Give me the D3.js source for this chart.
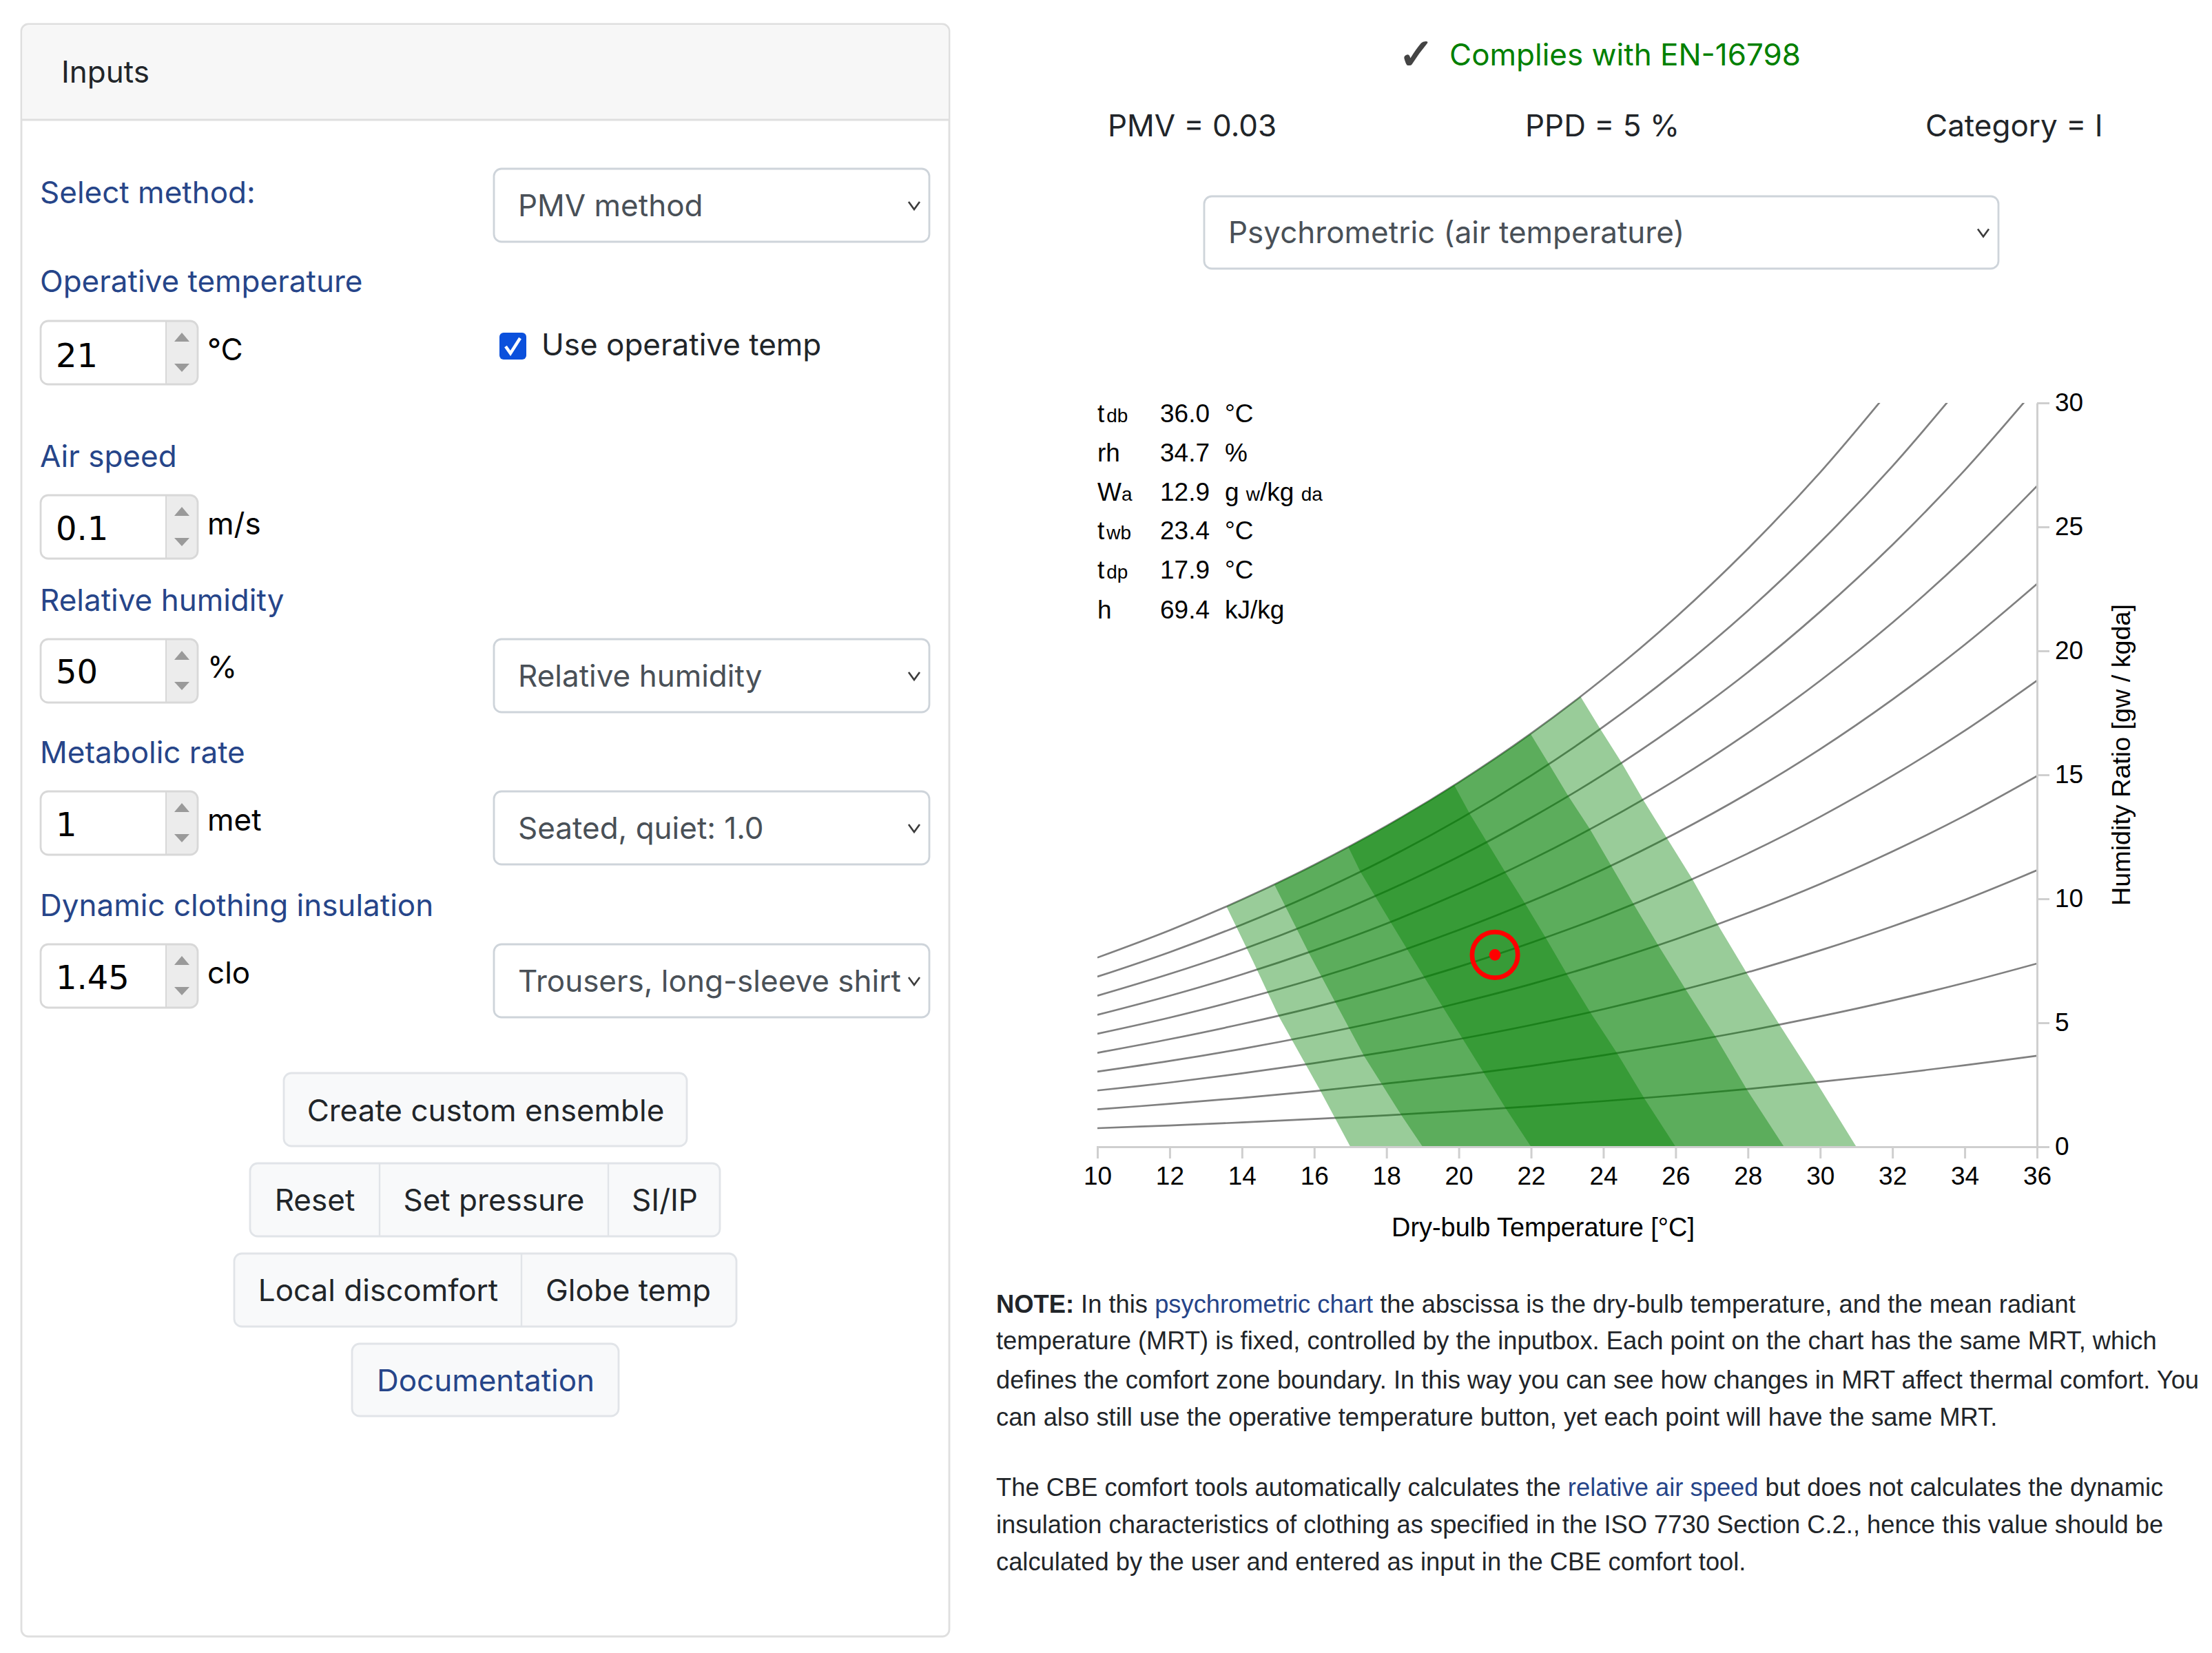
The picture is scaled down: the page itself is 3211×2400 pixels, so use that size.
<!DOCTYPE html>
<html>
<head>
<meta charset="utf-8">
<title>CBE thermal comfort tool</title>
<script src="https://d3js.org/d3.v7.min.js"></script>
<style>
    html, body { margin: 0; padding: 0; background: #fff; }
    svg { display: block; }
    .ui { font-family: Inter, Roboto, sans-serif; font-size: 44px; }
    .plain { font-family: "Liberation Sans", Arial, sans-serif; }
    .axis path, .axis line { stroke: #cfcfcf; stroke-width: 3px; fill: none; }
    .axis text { font-family: "Liberation Sans", Arial, sans-serif; font-size: 37px; fill: #000; }
</style>
</head>
<body>
<div id="page"></div>
<script>
// --- dados do grafico ---
const temps = [10, 12, 14, 16, 18, 20, 22, 24, 26, 28, 30, 32, 34, 36];
const xTicks = [10, 12, 14, 16, 18, 20, 22, 24, 26, 28, 30, 32, 34, 36];
const yTicks = [0, 5, 10, 15, 20, 25, 30];

// humidity ratio (g/kg) of each RH curve, read at the temps above
const rh10 = [0.75, 0.86, 0.98, 1.12, 1.27, 1.44, 1.63, 1.84, 2.07, 2.33, 2.62, 2.93, 3.29, 3.67];
const rh20 = [1.51, 1.73, 1.97, 2.24, 2.55, 2.88, 3.26, 3.69, 4.16, 4.68, 5.26, 5.90, 6.61, 7.39];
const rh30 = [2.27, 2.59, 2.96, 3.37, 3.83, 4.34, 4.91, 5.55, 6.26, 7.04, 7.92, 8.89, 9.96, 11.15];
const rh40 = [3.03, 3.46, 3.95, 4.50, 5.11, 5.80, 6.56, 7.42, 8.37, 9.43, 10.60, 11.91, 13.35, 14.95];
const rh50 = [3.79, 4.34, 4.95, 5.63, 6.40, 7.26, 8.23, 9.30, 10.50, 11.83, 13.31, 14.96, 16.78, 18.80];
const rh60 = [4.56, 5.21, 5.95, 6.77, 7.70, 8.74, 9.90, 11.19, 12.64, 14.25, 16.04, 18.04, 20.25, 22.70];
const rh70 = [5.32, 6.09, 6.95, 7.92, 9.00, 10.22, 11.58, 13.10, 14.79, 16.69, 18.80, 21.14, 23.75, 26.65];
const rh80 = [6.09, 6.97, 7.95, 9.06, 10.31, 11.70, 13.27, 15.01, 16.97, 19.14, 21.58, 24.28, 27.29, 30.64];
const rh90 = [6.86, 7.85, 8.96, 10.21, 11.62, 13.20, 14.97, 16.94, 19.15, 21.62, 24.38, 27.45, 30.87];
const rh100 = [7.63, 8.73, 9.97, 11.37, 12.94, 14.70, 16.67, 18.88, 21.35, 24.12, 27.20, 30.65];
const rhCurves = [rh10, rh20, rh30, rh40, rh50, rh60, rh70, rh80, rh90, rh100];

// comfort zone edges as [t, W], from W = 0 up to the saturation curve
const coldEdgeIII = [[17, 0], [16.15, 2.31], [15.03, 5.23], [14.3, 7.5], [13.58, 9.67]];
const warmEdgeIII = [[31, 0], [29.9, 2.59], [28.88, 4.91], [27.97, 7.0], [27.23, 8.8], [26.47, 10.78], [25.11, 13.97], [24.49, 15.53], [23.92, 16.84], [23.37, 18.15]];
const coldEdgeII = [[19, 0], [18.4, 1.3], [17.38, 3.66], [16.58, 5.83], [15.85, 7.82], [15.24, 9.58], [14.92, 10.51]];
const warmEdgeII = [[29, 0], [27.97, 2.31], [27.12, 4.4], [26.28, 6.34], [25.53, 8.1], [24.92, 9.58], [23.62, 12.83], [23.02, 14.17], [22.48, 15.47], [22.0, 16.62]];
const coldEdgeI = [[22, 0], [21.29, 1.57], [20.11, 4.35], [19.04, 6.85], [18.13, 9.02], [17.27, 11.11], [16.96, 12.04]];
const warmEdgeI = [[26, 0], [25.14, 1.94], [24.39, 3.75], [23.64, 5.42], [23.0, 6.94], [22.41, 8.42], [21.83, 9.82], [21.28, 11.09], [20.77, 12.31], [20.3, 13.44], [19.89, 14.54]];
const zones = [[coldEdgeIII, warmEdgeIII], [coldEdgeII, warmEdgeII], [coldEdgeI, warmEdgeI]];

const currentT = 21;
const currentW = 7.74;

// tabela de leitura do cursor
const readoutNames = [["t", "db"], ["rh", ""], ["W", "a"], ["t", "wb"], ["t", "dp"], ["h", ""]];
const readoutValues = ["36.0", "34.7", "12.9", "23.4", "17.9", "69.4"];

// --- textos da pagina ---
const noteLines = [
    [["NOTE:", "b"], [" In this ", ""], ["psychrometric chart", "a"], [" the abscissa is the dry-bulb temperature, and the mean radiant", ""]],
    [["temperature (MRT) is fixed, controlled by the inputbox. Each point on the chart has the same MRT, which", ""]],
    [["defines the comfort zone boundary. In this way you can see how changes in MRT affect thermal comfort. You", ""]],
    [["can also still use the operative temperature button, yet each point will have the same MRT.", ""]],
    [["The CBE comfort tools automatically calculates the ", ""], ["relative air speed", "a"], [" but does not calculates the dynamic", ""]],
    [["insulation characteristics of clothing as specified in the ISO 7730 Section C.2., hence this value should be", ""]],
    [["calculated by the user and entered as input in the CBE comfort tool.", ""]]
];
const noteBaselines = [1906, 1959, 2016, 2070, 2172, 2226, 2280];

const blue = "#264589";

const svg = d3.select("#page").append("svg")
    .attr("width", 3211)
    .attr("height", 2400);

// --- painel de entradas ---
const panel = svg.append("g").attr("class", "ui");

panel.append("rect")
    .attr("x", 31).attr("y", 35).attr("width", 1347).attr("height", 2341).attr("rx", 10)
    .attr("fill", "#fff").attr("stroke", "#dfdfdf").attr("stroke-width", 2.8);
panel.append("path")
    .attr("d", "M32.4,174 V46 a10,10 0 0 1 10,-10 H1367 a10,10 0 0 1 10,10 V174 Z")
    .attr("fill", "#f7f7f7");
panel.append("line")
    .attr("x1", 31).attr("x2", 1378).attr("y1", 174).attr("y2", 174)
    .attr("stroke", "#dfdfdf").attr("stroke-width", 2.8);
panel.append("text").attr("x", 89).attr("y", 120).attr("fill", "#212529").text("Inputs");

function label(x, y, txt, color) {
    return panel.append("text").attr("x", x).attr("y", y).attr("fill", color || blue).text(txt);
}

function selectBox(g, x, y, w, h, baseline, txt) {
    g.append("rect")
        .attr("x", x).attr("y", y).attr("width", w).attr("height", h).attr("rx", 11)
        .attr("fill", "#fff").attr("stroke", "#ced4da").attr("stroke-width", 2.8);
    g.append("text").attr("class", "ui").attr("x", x + 35).attr("y", baseline).attr("fill", "#495057").text(txt);
    const cx = x + w - 22, cy = y + h / 2;
    g.append("path")
        .attr("d", `M${cx - 8},${cy - 5} L${cx},${cy + 6} L${cx + 8},${cy - 5}`)
        .attr("fill", "none").attr("stroke", "#3c3c3c").attr("stroke-width", 2.6);
}

function numberBox(y, baseline, value, unit, unitBaseline) {
    panel.append("rect")
        .attr("x", 59).attr("y", y).attr("width", 228).attr("height", 92).attr("rx", 11)
        .attr("fill", "#fff");
    panel.append("path")
        .attr("d", `M241,${y} H276 a11,11 0 0 1 11,11 V${y + 81} a11,11 0 0 1 -11,11 H241 Z`)
        .attr("fill", "#ececec");
    panel.append("rect")
        .attr("x", 59).attr("y", y).attr("width", 228).attr("height", 92).attr("rx", 11)
        .attr("fill", "none").attr("stroke", "#d8d8d8").attr("stroke-width", 2.8);
    panel.append("line")
        .attr("x1", 241).attr("x2", 241).attr("y1", y).attr("y2", y + 92)
        .attr("stroke", "#d8d8d8").attr("stroke-width", 2);
    panel.append("path")
        .attr("d", `M264,${y + 17} L275,${y + 30} H253 Z M264,${y + 74} L275,${y + 62} H253 Z`)
        .attr("fill", "#9a9a9a");
    panel.append("text")
        .attr("x", 81).attr("y", baseline).attr("fill", "#000")
        .style("font-family", "'DejaVu Sans'").style("font-size", "48px")
        .text(value);
    panel.append("text").attr("x", 301).attr("y", unitBaseline).attr("fill", "#000").text(unit);
}

label(58, 295, "Select method:");
selectBox(panel, 717, 245, 632, 106, 314, "PMV method");

label(58, 424, "Operative temperature");
numberBox(466, 533, "21", "°C", 523);
panel.append("rect")
    .attr("x", 725).attr("y", 483).attr("width", 39).attr("height", 39).attr("rx", 6)
    .attr("fill", "#0b50dc");
panel.append("path")
    .attr("d", "M734,503 L741,513 L755,491")
    .attr("fill", "none").attr("stroke", "#fff").attr("stroke-width", 4.5);
label(786, 516, "Use operative temp", "#212529");

label(58, 678, "Air speed");
numberBox(719, 784, "0.1", "m/s", 776);

label(58, 887, "Relative humidity");
numberBox(928, 992, "50", "%", 984);
selectBox(panel, 717, 928, 632, 106, 997, "Relative humidity");

label(58, 1108, "Metabolic rate");
numberBox(1149, 1214, "1", "met", 1206);
selectBox(panel, 717, 1149, 632, 106, 1218, "Seated, quiet: 1.0");

label(58, 1330, "Dynamic clothing insulation");
numberBox(1371, 1436, "1.45", "clo", 1428);
selectBox(panel, 717, 1371, 632, 106, 1440, "Trousers, long-sleeve shirt");

function buttonRow(x, y, w, h, baseline, seps, items, color) {
    panel.append("rect")
        .attr("x", x).attr("y", y).attr("width", w).attr("height", h).attr("rx", 11)
        .attr("fill", "#f8f9fa").attr("stroke", "#e1e4e8").attr("stroke-width", 2.8);
    panel.selectAll(null).data(seps).join("line")
        .attr("x1", d => d).attr("x2", d => d).attr("y1", y).attr("y2", y + h)
        .attr("stroke", "#e1e4e8").attr("stroke-width", 2.4);
    panel.selectAll(null).data(items).join("text")
        .attr("x", d => d[0]).attr("y", baseline)
        .attr("text-anchor", "middle")
        .attr("fill", color || "#212529")
        .text(d => d[1]);
}

buttonRow(412, 1558, 585, 106, 1628, [], [[705, "Create custom ensemble"]]);
buttonRow(363, 1689, 682, 106, 1758, [551, 883], [[457, "Reset"], [717, "Set pressure"], [965, "SI/IP"]]);
buttonRow(340, 1820, 729, 106, 1889, [757], [[549, "Local discomfort"], [912, "Globe temp"]]);
buttonRow(511, 1951, 387, 105, 2020, [], [[705, "Documentation"]], blue);

// --- cabecalho direito ---
const head = svg.append("g").attr("class", "ui");
head.append("text")
    .attr("x", 2030).attr("y", 100)
    .attr("fill", "#444").attr("stroke", "#444").attr("stroke-width", 2)
    .style("font-family", "'DejaVu Sans'").style("font-size", "62px")
    .text("✓");
head.append("text").attr("x", 2104).attr("y", 95).attr("fill", "#008000").text("Complies with EN-16798");
head.selectAll(null)
    .data([[1608, "PMV = 0.03"], [2214, "PPD = 5 %"], [2795, "Category = I"]])
    .join("text")
    .attr("x", d => d[0]).attr("y", 198).attr("fill", "#212529").text(d => d[1]);
selectBox(head, 1748, 285, 1153, 105, 353, "Psychrometric (air temperature)");

// --- grafico psicrometrico ---
const x = d3.scaleLinear().domain([10, 36]).range([1593, 2957]);
const y = d3.scaleLinear().domain([0, 30]).range([1665, 585]);

const chart = svg.append("g");
const defs = svg.append("defs");

const pts = vals => vals.map((w, i) => [temps[i], w]);
const line = d3.line()
    .x(d => x(d[0]))
    .y(d => y(d[1]))
    .curve(d3.curveCatmullRom.alpha(0.5));

defs.append("clipPath").attr("id", "plotClip").append("rect")
    .attr("x", x(10)).attr("y", y(30)).attr("width", x(36) - x(10)).attr("height", y(0) - y(30));

// zonas ficam presas abaixo da curva de saturacao
defs.append("clipPath").attr("id", "satClip").append("path")
    .attr("d", d3.area()
        .x(d => x(d[0]))
        .y0(y(0))
        .y1(d => y(d[1]))
        .curve(d3.curveCatmullRom.alpha(0.5))(pts(rh100)));

chart.append("g")
    .attr("clip-path", "url(#plotClip)")
    .selectAll("path")
    .data(rhCurves)
    .join("path")
    .attr("d", d => line(pts(d)))
    .attr("fill", "none")
    .attr("stroke", "#808080")
    .attr("stroke-width", 2.7);

// prolonga a borda alem da saturacao, o clip corta o excesso
function beyond(edge) {
    const a = edge[edge.length - 2], b = edge[edge.length - 1];
    const k = 8 / (b[1] - a[1]);
    return [b[0] + (b[0] - a[0]) * k, b[1] + 8];
}

const flatLine = d3.line().x(d => x(d[0])).y(d => y(d[1]));

chart.append("g")
    .attr("clip-path", "url(#satClip)")
    .selectAll("path")
    .data(zones)
    .join("path")
    .attr("d", d => flatLine([...d[0], beyond(d[0]), beyond(d[1]), ...d[1].slice().reverse()]) + "Z")
    .attr("fill", "green")
    .attr("opacity", 0.4);

chart.append("circle")
    .attr("cx", x(currentT)).attr("cy", y(currentW)).attr("r", 33.2)
    .attr("fill", "none").attr("stroke", "#ff0000").attr("stroke-width", 6.7);
chart.append("circle")
    .attr("cx", x(currentT)).attr("cy", y(currentW)).attr("r", 8.4)
    .attr("fill", "#ff0000");

chart.append("g")
    .attr("class", "axis")
    .attr("transform", `translate(0,${y(0)})`)
    .call(d3.axisBottom(x).tickValues(xTicks).tickSize(17).tickSizeOuter(17).tickPadding(12).tickFormat(d3.format("d")));

chart.append("g")
    .attr("class", "axis")
    .attr("transform", `translate(${x(36)},0)`)
    .call(d3.axisRight(y).tickValues(yTicks).tickSize(18).tickSizeOuter(0).tickPadding(8).tickFormat(d3.format("d")));

chart.append("text")
    .attr("class", "plain")
    .attr("x", 2240).attr("y", 1795)
    .attr("text-anchor", "middle")
    .style("font-size", "37.9px")
    .text("Dry-bulb Temperature [°C]");

chart.append("text")
    .attr("class", "plain")
    .attr("transform", "translate(3092,1096) rotate(-90)")
    .attr("text-anchor", "middle")
    .style("font-size", "37.7px")
    .text("Humidity Ratio [gw / kgda]");

// leitura no canto do grafico
const rows = chart.append("g").attr("class", "plain").style("font-size", "37px");
const rowY = [613, 670, 727, 783, 840, 898];
readoutNames.forEach((n, i) => {
    const t = rows.append("text").attr("x", 1593).attr("y", rowY[i]);
    t.append("tspan").text(n[0]);
    t.append("tspan").attr("dx", n[0] === "t" ? 3 : 0).style("font-size", "28px").text(n[1]);
    rows.append("text").attr("x", 1684).attr("y", rowY[i]).text(readoutValues[i]);
});
rows.selectAll(null).data([[0, "°C"], [1, "%"], [3, "°C"], [4, "°C"], [5, "kJ/kg"]]).join("text")
    .attr("x", 1778).attr("y", d => rowY[d[0]]).text(d => d[1]);
const wUnit = rows.append("text").attr("x", 1778).attr("y", rowY[2]);
wUnit.append("tspan").text("g ");
wUnit.append("tspan").style("font-size", "28px").text("w");
wUnit.append("tspan").text("/kg ");
wUnit.append("tspan").style("font-size", "28px").text("da");

// --- notas ---
const notes = svg.append("g").attr("class", "plain").style("font-size", "36.35px");
noteLines.forEach((parts, i) => {
    const t = notes.append("text").attr("x", 1446).attr("y", noteBaselines[i]).attr("fill", "#212529");
    parts.forEach(p => {
        t.append("tspan")
            .attr("fill", p[1] === "a" ? blue : "#212529")
            .attr("font-weight", p[1] === "b" ? 700 : 400)
            .text(p[0]);
    });
});
</script>
</body>
</html>
